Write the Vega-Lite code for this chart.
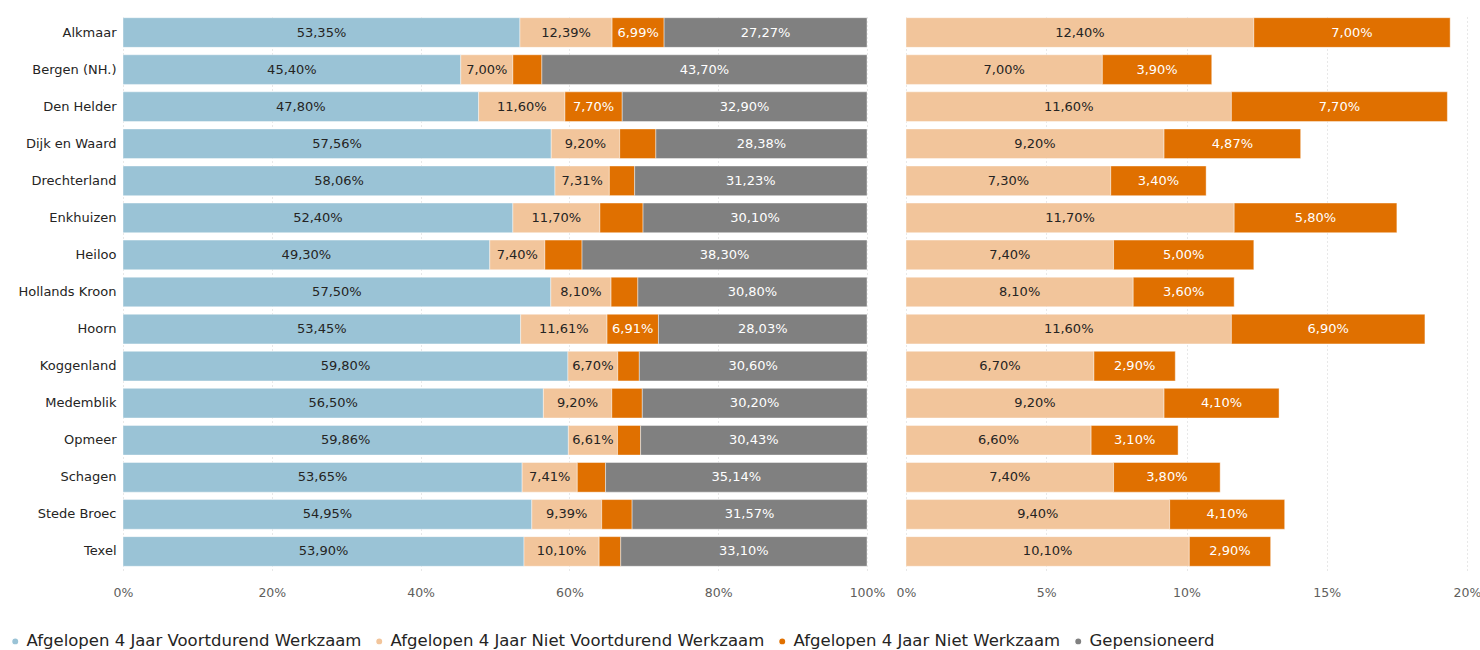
{
  "$schema": "https://vega.github.io/schema/vega-lite/v6.json",
  "padding": {"left": 5, "top": 14, "right": 0, "bottom": 0},
  "bounds": "flush",
  "background": "white",
  "config": {
    "locale": {"number": {"decimal": ",", "thousands": ".", "grouping": [3], "currency": ["€", ""]}},
    "font": "DejaVu Sans",
    "view": {"stroke": null},
    "concat": {"spacing": 39},
    "axis": {"domain": false, "ticks": false, "title": null},
    "legend": {
      "direction": "horizontal", "title": null,
      "symbolType": "circle", "symbolSize": 55, "labelFontSize": 16.5,
      "labelColor": "#252423", "labelOffset": 3, "columnPadding": 9,
      "labelLimit": 500
    }
  },
  "datasets": {
    "left": [
      {"g": "Alkmaar", "c": "Afgelopen 4 Jaar Voortdurend Werkzaam", "k": 1, "v": 0.5335},
      {"g": "Alkmaar", "c": "Afgelopen 4 Jaar Niet Voortdurend Werkzaam", "k": 2, "v": 0.1239},
      {"g": "Alkmaar", "c": "Afgelopen 4 Jaar Niet Werkzaam", "k": 3, "v": 0.0699},
      {"g": "Alkmaar", "c": "Gepensioneerd", "k": 4, "v": 0.2727},
      {"g": "Bergen (NH.)", "c": "Afgelopen 4 Jaar Voortdurend Werkzaam", "k": 1, "v": 0.454},
      {"g": "Bergen (NH.)", "c": "Afgelopen 4 Jaar Niet Voortdurend Werkzaam", "k": 2, "v": 0.07},
      {"g": "Bergen (NH.)", "c": "Afgelopen 4 Jaar Niet Werkzaam", "k": 3, "v": 0.039},
      {"g": "Bergen (NH.)", "c": "Gepensioneerd", "k": 4, "v": 0.437},
      {"g": "Den Helder", "c": "Afgelopen 4 Jaar Voortdurend Werkzaam", "k": 1, "v": 0.478},
      {"g": "Den Helder", "c": "Afgelopen 4 Jaar Niet Voortdurend Werkzaam", "k": 2, "v": 0.116},
      {"g": "Den Helder", "c": "Afgelopen 4 Jaar Niet Werkzaam", "k": 3, "v": 0.077},
      {"g": "Den Helder", "c": "Gepensioneerd", "k": 4, "v": 0.329},
      {"g": "Dijk en Waard", "c": "Afgelopen 4 Jaar Voortdurend Werkzaam", "k": 1, "v": 0.5756},
      {"g": "Dijk en Waard", "c": "Afgelopen 4 Jaar Niet Voortdurend Werkzaam", "k": 2, "v": 0.092},
      {"g": "Dijk en Waard", "c": "Afgelopen 4 Jaar Niet Werkzaam", "k": 3, "v": 0.0486},
      {"g": "Dijk en Waard", "c": "Gepensioneerd", "k": 4, "v": 0.2838},
      {"g": "Drechterland", "c": "Afgelopen 4 Jaar Voortdurend Werkzaam", "k": 1, "v": 0.5806},
      {"g": "Drechterland", "c": "Afgelopen 4 Jaar Niet Voortdurend Werkzaam", "k": 2, "v": 0.0731},
      {"g": "Drechterland", "c": "Afgelopen 4 Jaar Niet Werkzaam", "k": 3, "v": 0.034},
      {"g": "Drechterland", "c": "Gepensioneerd", "k": 4, "v": 0.3123},
      {"g": "Enkhuizen", "c": "Afgelopen 4 Jaar Voortdurend Werkzaam", "k": 1, "v": 0.524},
      {"g": "Enkhuizen", "c": "Afgelopen 4 Jaar Niet Voortdurend Werkzaam", "k": 2, "v": 0.117},
      {"g": "Enkhuizen", "c": "Afgelopen 4 Jaar Niet Werkzaam", "k": 3, "v": 0.058},
      {"g": "Enkhuizen", "c": "Gepensioneerd", "k": 4, "v": 0.301},
      {"g": "Heiloo", "c": "Afgelopen 4 Jaar Voortdurend Werkzaam", "k": 1, "v": 0.493},
      {"g": "Heiloo", "c": "Afgelopen 4 Jaar Niet Voortdurend Werkzaam", "k": 2, "v": 0.074},
      {"g": "Heiloo", "c": "Afgelopen 4 Jaar Niet Werkzaam", "k": 3, "v": 0.05},
      {"g": "Heiloo", "c": "Gepensioneerd", "k": 4, "v": 0.383},
      {"g": "Hollands Kroon", "c": "Afgelopen 4 Jaar Voortdurend Werkzaam", "k": 1, "v": 0.575},
      {"g": "Hollands Kroon", "c": "Afgelopen 4 Jaar Niet Voortdurend Werkzaam", "k": 2, "v": 0.081},
      {"g": "Hollands Kroon", "c": "Afgelopen 4 Jaar Niet Werkzaam", "k": 3, "v": 0.036},
      {"g": "Hollands Kroon", "c": "Gepensioneerd", "k": 4, "v": 0.308},
      {"g": "Hoorn", "c": "Afgelopen 4 Jaar Voortdurend Werkzaam", "k": 1, "v": 0.5345},
      {"g": "Hoorn", "c": "Afgelopen 4 Jaar Niet Voortdurend Werkzaam", "k": 2, "v": 0.1161},
      {"g": "Hoorn", "c": "Afgelopen 4 Jaar Niet Werkzaam", "k": 3, "v": 0.0691},
      {"g": "Hoorn", "c": "Gepensioneerd", "k": 4, "v": 0.2803},
      {"g": "Koggenland", "c": "Afgelopen 4 Jaar Voortdurend Werkzaam", "k": 1, "v": 0.598},
      {"g": "Koggenland", "c": "Afgelopen 4 Jaar Niet Voortdurend Werkzaam", "k": 2, "v": 0.067},
      {"g": "Koggenland", "c": "Afgelopen 4 Jaar Niet Werkzaam", "k": 3, "v": 0.029},
      {"g": "Koggenland", "c": "Gepensioneerd", "k": 4, "v": 0.306},
      {"g": "Medemblik", "c": "Afgelopen 4 Jaar Voortdurend Werkzaam", "k": 1, "v": 0.565},
      {"g": "Medemblik", "c": "Afgelopen 4 Jaar Niet Voortdurend Werkzaam", "k": 2, "v": 0.092},
      {"g": "Medemblik", "c": "Afgelopen 4 Jaar Niet Werkzaam", "k": 3, "v": 0.041},
      {"g": "Medemblik", "c": "Gepensioneerd", "k": 4, "v": 0.302},
      {"g": "Opmeer", "c": "Afgelopen 4 Jaar Voortdurend Werkzaam", "k": 1, "v": 0.5986},
      {"g": "Opmeer", "c": "Afgelopen 4 Jaar Niet Voortdurend Werkzaam", "k": 2, "v": 0.0661},
      {"g": "Opmeer", "c": "Afgelopen 4 Jaar Niet Werkzaam", "k": 3, "v": 0.031},
      {"g": "Opmeer", "c": "Gepensioneerd", "k": 4, "v": 0.3043},
      {"g": "Schagen", "c": "Afgelopen 4 Jaar Voortdurend Werkzaam", "k": 1, "v": 0.5365},
      {"g": "Schagen", "c": "Afgelopen 4 Jaar Niet Voortdurend Werkzaam", "k": 2, "v": 0.0741},
      {"g": "Schagen", "c": "Afgelopen 4 Jaar Niet Werkzaam", "k": 3, "v": 0.038},
      {"g": "Schagen", "c": "Gepensioneerd", "k": 4, "v": 0.3514},
      {"g": "Stede Broec", "c": "Afgelopen 4 Jaar Voortdurend Werkzaam", "k": 1, "v": 0.5495},
      {"g": "Stede Broec", "c": "Afgelopen 4 Jaar Niet Voortdurend Werkzaam", "k": 2, "v": 0.0939},
      {"g": "Stede Broec", "c": "Afgelopen 4 Jaar Niet Werkzaam", "k": 3, "v": 0.0409},
      {"g": "Stede Broec", "c": "Gepensioneerd", "k": 4, "v": 0.3157},
      {"g": "Texel", "c": "Afgelopen 4 Jaar Voortdurend Werkzaam", "k": 1, "v": 0.539},
      {"g": "Texel", "c": "Afgelopen 4 Jaar Niet Voortdurend Werkzaam", "k": 2, "v": 0.101},
      {"g": "Texel", "c": "Afgelopen 4 Jaar Niet Werkzaam", "k": 3, "v": 0.029},
      {"g": "Texel", "c": "Gepensioneerd", "k": 4, "v": 0.331}
    ],
    "right": [
      {"g": "Alkmaar", "c": "Afgelopen 4 Jaar Niet Voortdurend Werkzaam", "k": 2, "v": 0.124},
      {"g": "Alkmaar", "c": "Afgelopen 4 Jaar Niet Werkzaam", "k": 3, "v": 0.07},
      {"g": "Bergen (NH.)", "c": "Afgelopen 4 Jaar Niet Voortdurend Werkzaam", "k": 2, "v": 0.07},
      {"g": "Bergen (NH.)", "c": "Afgelopen 4 Jaar Niet Werkzaam", "k": 3, "v": 0.039},
      {"g": "Den Helder", "c": "Afgelopen 4 Jaar Niet Voortdurend Werkzaam", "k": 2, "v": 0.116},
      {"g": "Den Helder", "c": "Afgelopen 4 Jaar Niet Werkzaam", "k": 3, "v": 0.077},
      {"g": "Dijk en Waard", "c": "Afgelopen 4 Jaar Niet Voortdurend Werkzaam", "k": 2, "v": 0.092},
      {"g": "Dijk en Waard", "c": "Afgelopen 4 Jaar Niet Werkzaam", "k": 3, "v": 0.0487},
      {"g": "Drechterland", "c": "Afgelopen 4 Jaar Niet Voortdurend Werkzaam", "k": 2, "v": 0.073},
      {"g": "Drechterland", "c": "Afgelopen 4 Jaar Niet Werkzaam", "k": 3, "v": 0.034},
      {"g": "Enkhuizen", "c": "Afgelopen 4 Jaar Niet Voortdurend Werkzaam", "k": 2, "v": 0.117},
      {"g": "Enkhuizen", "c": "Afgelopen 4 Jaar Niet Werkzaam", "k": 3, "v": 0.058},
      {"g": "Heiloo", "c": "Afgelopen 4 Jaar Niet Voortdurend Werkzaam", "k": 2, "v": 0.074},
      {"g": "Heiloo", "c": "Afgelopen 4 Jaar Niet Werkzaam", "k": 3, "v": 0.05},
      {"g": "Hollands Kroon", "c": "Afgelopen 4 Jaar Niet Voortdurend Werkzaam", "k": 2, "v": 0.081},
      {"g": "Hollands Kroon", "c": "Afgelopen 4 Jaar Niet Werkzaam", "k": 3, "v": 0.036},
      {"g": "Hoorn", "c": "Afgelopen 4 Jaar Niet Voortdurend Werkzaam", "k": 2, "v": 0.116},
      {"g": "Hoorn", "c": "Afgelopen 4 Jaar Niet Werkzaam", "k": 3, "v": 0.069},
      {"g": "Koggenland", "c": "Afgelopen 4 Jaar Niet Voortdurend Werkzaam", "k": 2, "v": 0.067},
      {"g": "Koggenland", "c": "Afgelopen 4 Jaar Niet Werkzaam", "k": 3, "v": 0.029},
      {"g": "Medemblik", "c": "Afgelopen 4 Jaar Niet Voortdurend Werkzaam", "k": 2, "v": 0.092},
      {"g": "Medemblik", "c": "Afgelopen 4 Jaar Niet Werkzaam", "k": 3, "v": 0.041},
      {"g": "Opmeer", "c": "Afgelopen 4 Jaar Niet Voortdurend Werkzaam", "k": 2, "v": 0.066},
      {"g": "Opmeer", "c": "Afgelopen 4 Jaar Niet Werkzaam", "k": 3, "v": 0.031},
      {"g": "Schagen", "c": "Afgelopen 4 Jaar Niet Voortdurend Werkzaam", "k": 2, "v": 0.074},
      {"g": "Schagen", "c": "Afgelopen 4 Jaar Niet Werkzaam", "k": 3, "v": 0.038},
      {"g": "Stede Broec", "c": "Afgelopen 4 Jaar Niet Voortdurend Werkzaam", "k": 2, "v": 0.094},
      {"g": "Stede Broec", "c": "Afgelopen 4 Jaar Niet Werkzaam", "k": 3, "v": 0.041},
      {"g": "Texel", "c": "Afgelopen 4 Jaar Niet Voortdurend Werkzaam", "k": 2, "v": 0.101},
      {"g": "Texel", "c": "Afgelopen 4 Jaar Niet Werkzaam", "k": 3, "v": 0.029}
    ]
  },
  "hconcat": [
    {
      "width": 744,
      "height": 556,
      "data": {"name": "left"},
      "transform": [
        {"stack": "v", "groupby": ["g"], "sort": [{"field": "k"}], "as": ["x0", "x1"]},
        {"calculate": "(datum.x0 + datum.x1) / 2", "as": "xm"}
      ],
      "encoding": {
        "y": {
          "field": "g", "type": "nominal",
          "sort": ["Alkmaar", "Bergen (NH.)", "Den Helder", "Dijk en Waard", "Drechterland", "Enkhuizen", "Heiloo", "Hollands Kroon", "Hoorn", "Koggenland", "Medemblik", "Opmeer", "Schagen", "Stede Broec", "Texel"],
          "scale": {"paddingInner": 0.2, "paddingOuter": 0.1},
          "axis": {"labelFontSize": 13, "labelColor": "#252423", "labelPadding": 7, "minExtent": 118, "maxExtent": 118, "grid": false}
        }
      },
      "layer": [
        {
          "mark": {"type": "bar", "stroke": "white", "strokeWidth": 0.6, "strokeOpacity": 0.7},
          "encoding": {
            "x": {
              "field": "x0", "type": "quantitative",
              "scale": {"domain": [0, 1], "nice": false},
              "axis": {"values": [0, 0.2, 0.4, 0.6, 0.8, 1], "format": ".0%", "grid": true, "gridDash": [1, 3], "gridColor": "#d0d0d0", "labelFontSize": 12.5, "labelColor": "#605E5C", "labelPadding": 16, "labelFlush": false}
            },
            "x2": {"field": "x1"},
            "color": {
              "field": "c", "type": "nominal",
              "scale": {
                "domain": ["Afgelopen 4 Jaar Voortdurend Werkzaam", "Afgelopen 4 Jaar Niet Voortdurend Werkzaam", "Afgelopen 4 Jaar Niet Werkzaam", "Gepensioneerd"],
                "range": ["#9AC3D6", "#F2C59B", "#E07000", "#808080"]
              },
              "legend": {"orient": "none", "legendX": -116, "legendY": 619, "direction": "horizontal"}
            }
          }
        },
        {
          "transform": [{"filter": "datum.v >= 0.06"}],
          "mark": {"type": "text", "fontSize": 13},
          "encoding": {
            "x": {"field": "xm", "type": "quantitative"},
            "text": {"field": "v", "type": "quantitative", "format": ".2%"},
            "color": {"condition": {"test": "datum.k >= 3", "value": "white"}, "value": "#252423"}
          }
        }
      ]
    },
    {
      "width": 561,
      "height": 556,
      "data": {"name": "right"},
      "transform": [
        {"stack": "v", "groupby": ["g"], "sort": [{"field": "k"}], "as": ["x0", "x1"]},
        {"calculate": "(datum.x0 + datum.x1) / 2", "as": "xm"}
      ],
      "encoding": {
        "y": {
          "field": "g", "type": "nominal",
          "sort": ["Alkmaar", "Bergen (NH.)", "Den Helder", "Dijk en Waard", "Drechterland", "Enkhuizen", "Heiloo", "Hollands Kroon", "Hoorn", "Koggenland", "Medemblik", "Opmeer", "Schagen", "Stede Broec", "Texel"],
          "scale": {"paddingInner": 0.2, "paddingOuter": 0.1},
          "axis": null
        }
      },
      "layer": [
        {
          "mark": {"type": "bar", "stroke": "white", "strokeWidth": 0.6, "strokeOpacity": 0.7},
          "encoding": {
            "x": {
              "field": "x0", "type": "quantitative",
              "scale": {"domain": [0, 0.2], "nice": false},
              "axis": {"values": [0, 0.05, 0.1, 0.15, 0.2], "format": ".0%", "grid": true, "gridDash": [1, 3], "gridColor": "#d0d0d0", "labelFontSize": 12.5, "labelColor": "#605E5C", "labelPadding": 16, "labelFlush": false}
            },
            "x2": {"field": "x1"},
            "color": {"field": "c", "type": "nominal"}
          }
        },
        {
          "mark": {"type": "text", "fontSize": 13},
          "encoding": {
            "x": {"field": "xm", "type": "quantitative"},
            "text": {"field": "v", "type": "quantitative", "format": ".2%"},
            "color": {"condition": {"test": "datum.k >= 3", "value": "white"}, "value": "#252423"}
          }
        }
      ]
    }
  ],
  "resolve": {"scale": {"color": "shared"}}
}
